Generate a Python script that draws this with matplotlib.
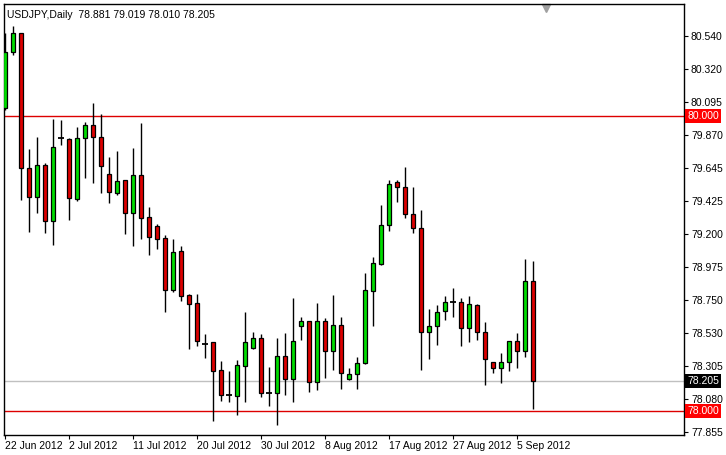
import matplotlib
matplotlib.use("Agg")
import matplotlib.pyplot as plt

plt.rcParams['font.family'] = ['Liberation Sans', 'DejaVu Sans']

opens = [80.052,80.432,80.560,79.645,79.453,79.668,79.290,79.849,79.844,79.437,79.849,79.937,79.858,79.607,79.480,79.564,79.345,79.600,79.313,79.252,79.171,78.823,79.085,78.786,78.730,78.456,78.466,78.278,78.111,78.104,78.307,78.429,78.493,78.120,78.120,78.373,78.215,78.578,78.610,78.199,78.610,78.409,78.583,78.215,78.249,78.323,78.816,78.997,79.259,79.550,79.521,79.333,79.238,78.533,78.578,78.680,78.741,78.741,78.560,78.719,78.533,78.330,78.294,78.330,78.475,78.409,78.881]
highs = [80.560,80.610,80.560,79.776,79.860,79.679,79.980,79.973,79.853,79.928,79.959,80.090,80.014,79.724,79.763,79.564,79.785,79.955,79.383,79.268,79.193,79.166,79.119,78.793,78.793,78.520,78.466,78.339,78.273,78.346,78.673,78.538,78.520,78.300,78.497,78.531,78.768,78.635,78.610,78.734,78.628,78.786,78.640,78.289,78.368,78.933,79.046,79.397,79.566,79.566,79.656,79.521,79.363,78.691,78.719,78.782,78.832,78.764,78.782,78.725,78.606,78.330,78.395,78.475,78.531,79.028,79.019]
lows = [80.041,80.414,79.430,79.216,79.345,79.209,79.125,79.803,79.295,79.424,79.582,79.548,79.476,79.412,79.464,79.200,79.119,79.168,79.058,79.101,78.673,78.809,78.746,78.423,78.437,78.362,77.934,78.068,78.061,77.973,78.063,78.418,78.097,78.034,77.905,78.108,78.063,78.481,78.131,78.142,78.221,78.278,78.149,78.210,78.149,78.316,78.576,78.990,79.223,79.419,79.311,79.204,78.278,78.352,78.447,78.617,78.640,78.441,78.470,78.481,78.176,78.260,78.187,78.273,78.294,78.368,78.010]
closes = [80.436,80.560,79.645,79.453,79.668,79.290,79.790,79.846,79.446,79.849,79.937,79.855,79.663,79.487,79.557,79.345,79.600,79.311,79.182,79.168,78.823,79.076,78.782,78.728,78.475,78.456,78.273,78.111,78.111,78.310,78.466,78.493,78.120,78.120,78.373,78.215,78.475,78.610,78.199,78.610,78.409,78.583,78.255,78.251,78.323,78.820,79.001,79.259,79.537,79.521,79.333,79.243,78.533,78.578,78.669,78.741,78.741,78.560,78.723,78.533,78.350,78.294,78.330,78.475,78.409,78.881,78.205]
date_labels = ["22 Jun 2012","2 Jul 2012","11 Jul 2012","20 Jul 2012","30 Jul 2012","8 Aug 2012","17 Aug 2012","27 Aug 2012","5 Sep 2012"]
date_idx = [0,8,16,24,32,40,48,56,64]
ytick_vals = [80.540,80.320,80.095,79.870,79.645,79.425,79.200,78.975,78.750,78.530,78.305,78.080,77.855]
levels = [80.0, 78.0]
last_price = 78.205

W, H = 726, 455
fig = plt.figure(figsize=(W/100, H/100), dpi=100)
ax = fig.add_axes([4/W, (H-435)/H, 680/W, 431/H])
GREEN, RED = "#00dd00", "#dd0000"
n = len(opens)
xs = list(range(n))
for i in xs:
    o, h, l, c = opens[i], highs[i], lows[i], closes[i]
    ax.vlines(i, l, h, color="black", lw=1, zorder=2)
    if abs(c - o) < 0.006:
        ax.hlines(o, i-0.35, i+0.35, color="black", lw=1.3, zorder=3)
    else:
        col = GREEN if c > o else RED
        ax.bar(i, abs(c-o), bottom=min(o, c), width=0.62, color=col,
               edgecolor="black", linewidth=0.9, zorder=3)

for lv in levels:
    ax.axhline(lv, color="#dd0000", lw=1, zorder=1)
ax.axhline(last_price, color="#c0c0c0", lw=1, zorder=1)

ax.set_xlim(-0.125, 84.875)
ax.set_ylim(77.837, 80.759)
ax.yaxis.tick_right()
ax.set_yticks(ytick_vals)
ax.set_yticklabels([f"{v:.3f}" for v in ytick_vals])
ax.set_xticks(date_idx)
ax.set_xticklabels(date_labels)
ax.tick_params(axis="both", labelsize=7.5, length=3, width=0.8, color="black", pad=2)
ax.tick_params(axis="x", pad=1)
for lab in ax.get_xticklabels():
    lab.set_horizontalalignment("left")
for s in ax.spines.values():
    s.set_linewidth(1)

trans = ax.get_yaxis_transform()
for lv in levels:
    ax.text(1.005, lv, f"{lv:.3f}", transform=trans, va="center", ha="left",
            fontsize=7.5, color="white",
            bbox=dict(boxstyle="square,pad=0.2", fc="#ff0000", ec="none"), clip_on=False)
ax.text(1.005, last_price, f"{last_price:.3f}", transform=trans, va="center", ha="left",
        fontsize=7.5, color="white",
        bbox=dict(boxstyle="square,pad=0.2", fc="black", ec="none"), clip_on=False)

ax.text(0.005, 0.985, f"USDJPY,Daily  {opens[-1]:.3f} {highs[-1]:.3f} {lows[-1]:.3f} {closes[-1]:.3f}",
        transform=ax.transAxes, va="top", ha="left", fontsize=7.5, color="black")
ax.plot([(546-4)/680], [0.99], marker="v", color="#a0a0a0", markersize=6,
        transform=ax.transAxes, clip_on=False)

fig.savefig("out.png", dpi=100, facecolor="white")
